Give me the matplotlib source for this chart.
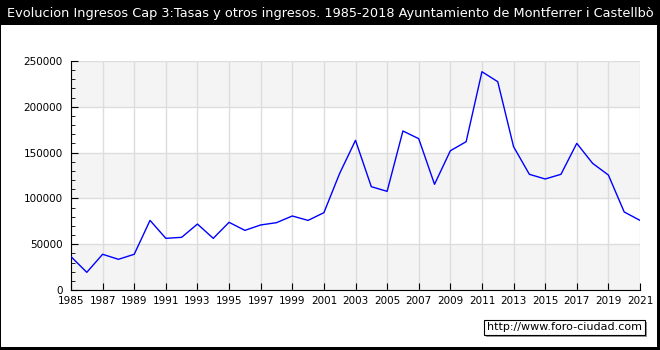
import matplotlib.pyplot as plt
from matplotlib.ticker import MultipleLocator
from matplotlib.patches import Rectangle

years = list(range(1985, 2022))
ingresos = [36400, 19300, 39000, 33500, 39000, 76000, 56400, 57500, 72000, 56400,
            73900, 65100, 71000, 73500, 80800, 76000, 84400, 127400, 163400, 112800,
            107700, 173600, 165200, 115400, 152000, 161900, 238300, 227400, 156500, 126300,
            121200, 126300, 160100, 138300, 125500, 85200, 76000]

titulo = "Evolucion Ingresos Cap 3:Tasas y otros ingresos. 1985-2018 Ayuntamiento de Montferrer i Castellbò"

fig = plt.figure(figsize=(6.6, 3.5), dpi=100, facecolor="black")

# white panel under the title bar
fig.patches.append(Rectangle((1/660, 3/350), 656/660, 322/350, transform=fig.transFigure,
                             facecolor="white", edgecolor="none", zorder=-5))
fig.text(0.5, 1 - 13/350, titulo, color="white", fontsize=9.3, ha="center", va="center")

ax = fig.add_axes([71/660, 60/350, 569/660, 229/350], zorder=2)
ax.set_facecolor("white")
ax.set_xlim(1985, 2021)
ax.set_ylim(0, 250000)

# alternating bands
for y0 in range(0, 250000, 100000):
    ax.axhspan(y0, y0 + 50000, color="#f4f4f4", zorder=0, lw=0)

ax.set_xticks(range(1985, 2022, 2))
ax.yaxis.set_major_locator(MultipleLocator(50000))
ax.yaxis.set_minor_locator(MultipleLocator(10000))
ax.grid(True, color="#dddddd", lw=1, zorder=1)
ax.set_axisbelow(True)

ax.plot(years, ingresos, color="blue", lw=1, zorder=3)

for s in ["top", "right"]:
    ax.spines[s].set_visible(False)
ax.tick_params(axis="both", which="both", direction="in", labelsize=7.5, colors="black")
ax.tick_params(which="major", length=5)
ax.tick_params(which="minor", length=3)
ax.tick_params(axis="x", pad=4)
ax.tick_params(axis="y", pad=6)

# watermark box with a small shadow
fig.patches.append(Rectangle((486/660, 1 - 337/350), 161/660, 15/350, transform=fig.transFigure,
                             facecolor="#999999", edgecolor="none", zorder=3))
fig.patches.append(Rectangle((484/660, 1 - 335/350), 161/660, 15/350, transform=fig.transFigure,
                             facecolor="white", edgecolor="black", lw=0.8, zorder=4))
fig.text(564.5/660, 1 - 327.5/350, "http://www.foro-ciudad.com", fontsize=8, ha="center",
         va="center", zorder=5)

fig.savefig("out.png", dpi=100, facecolor="black")
